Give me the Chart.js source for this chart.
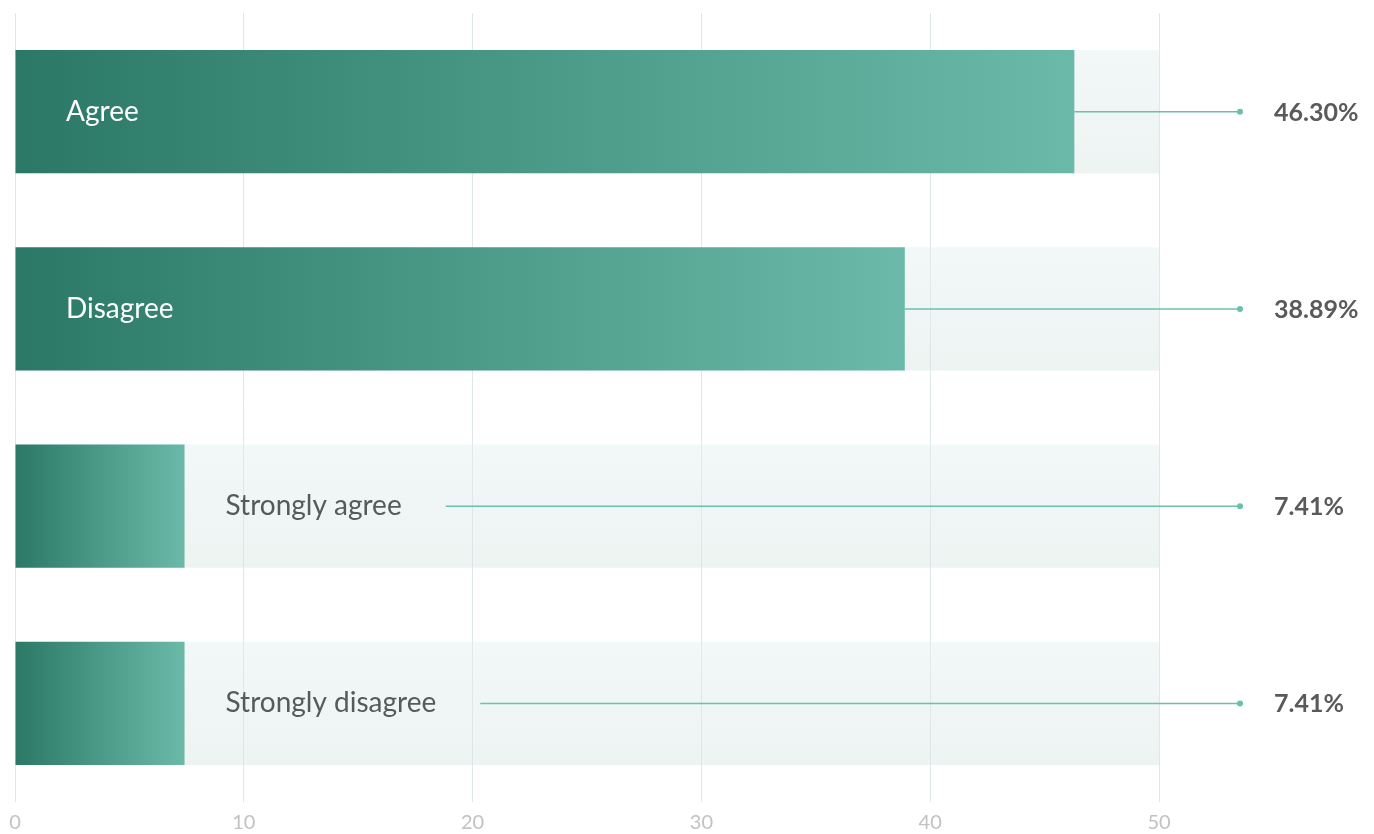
<!DOCTYPE html>
<html>
<head>
<meta charset="utf-8">
<script src="https://cdn.jsdelivr.net/npm/chart.js@4.4.1/dist/chart.umd.min.js"></script>
<style>
    html, body { margin: 0; padding: 0; background: #ffffff; }
    #wrap { width: 1374px; height: 834px; position: relative; }
</style>
</head>
<body>
<div id="wrap"><canvas id="chart"></canvas></div>
<script>
// Data
const categories = ['Agree', 'Disagree', 'Strongly agree', 'Strongly disagree'];
const values = [46.30, 38.89, 7.41, 7.41];
const axisMax = 50;
const trackValues = categories.map(() => axisMax);
const tickLabels = ['0', '10', '20', '30', '40', '50'];

const FONT = 'Lato, "Source Sans Pro", "Noto Sans", sans-serif';

const colors = {
    dark: '#2b7866',
    light: '#6bbaa9',
    line: '#6cbfad',
    grid: '#dfe7e8',
    tick: '#c2c2c2',
    text: '#555a5a',
    value: '#5a5a5a'
};

// gradient from the bar base to the bar end
function barGradient(context) {
    const chart = context.chart;
    if (!chart.chartArea || !chart.scales.x) return colors.light;
    const x = chart.scales.x;
    const v = context.raw || 0;
    const x0 = x.getPixelForValue(0);
    const x1 = x.getPixelForValue(v);
    const g = chart.ctx.createLinearGradient(x0, 0, x1, 0);
    g.addColorStop(0, colors.dark);
    g.addColorStop(1, colors.light);
    return g;
}

function trackGradient(context) {
    const chart = context.chart;
    if (!chart.chartArea || !chart.scales.y) return 'rgba(220,234,232,0.4)';
    const y = chart.scales.y;
    const yc = y.getPixelForValue(context.dataIndex);
    const g = chart.ctx.createLinearGradient(0, yc - 62, 0, yc + 62);
    g.addColorStop(0, 'rgba(226,238,237,0.42)');
    g.addColorStop(1, 'rgba(210,228,224,0.42)');
    return g;
}

// labels, connector lines and values
const labelPlugin = {
    id: 'barLabels',
    afterDatasetsDraw(chart) {
        const { ctx, scales: { x, y } } = chart;
        const lineEnd = x.right + 81;
        const valueX = x.right + 115;
        ctx.save();
        categories.forEach((cat, i) => {
            const yc = y.getPixelForValue(i);
            const x0 = x.getPixelForValue(0);
            const x1 = x.getPixelForValue(values[i]);

            ctx.font = '400 28px ' + FONT;
            ctx.textBaseline = 'middle';
            ctx.textAlign = 'left';
            const w = ctx.measureText(cat).width;
            let lineStart;
            if (x1 - x0 > w + 102) {
                ctx.fillStyle = '#ffffff';
                ctx.fillText(cat, x0 + 51, yc);
                lineStart = x1;
            } else {
                ctx.fillStyle = colors.text;
                ctx.fillText(cat, x1 + 41, yc);
                lineStart = x1 + 41 + w + 44;
            }

            ctx.strokeStyle = colors.line;
            ctx.lineWidth = 1.5;
            ctx.beginPath();
            ctx.moveTo(lineStart, yc);
            ctx.lineTo(lineEnd, yc);
            ctx.stroke();
            ctx.fillStyle = colors.line;
            ctx.beginPath();
            ctx.arc(lineEnd, yc, 3, 0, Math.PI * 2);
            ctx.fill();

            ctx.font = '700 25px ' + FONT;
            ctx.fillStyle = colors.value;
            ctx.fillText(values[i].toFixed(2) + '%', valueX, yc + 1);
        });
        ctx.restore();
    }
};

new Chart(document.getElementById('chart'), {
    type: 'bar',
    data: {
        labels: categories,
        datasets: [
            {
                data: values,
                backgroundColor: barGradient,
                borderWidth: 0,
                order: 0
            },
            {
                data: trackValues,
                backgroundColor: trackGradient,
                borderWidth: 0,
                order: 1
            }
        ]
    },
    options: {
        indexAxis: 'y',
        responsive: true,
        maintainAspectRatio: false,
        animation: false,
        datasets: {
            bar: {
                grouped: false,
                categoryPercentage: 1,
                barPercentage: 0.625
            }
        },
        layout: {
            padding: { left: 15, right: 215, top: 13, bottom: 0 }
        },
        plugins: {
            legend: { display: false },
            tooltip: { enabled: false }
        },
        scales: {
            x: {
                min: 0,
                max: axisMax,
                border: { display: false },
                grid: {
                    color: colors.grid,
                    lineWidth: 1,
                    drawTicks: false
                },
                ticks: {
                    stepSize: 10,
                    padding: 9,
                    color: colors.tick,
                    font: { family: FONT, size: 20 },
                    callback: (v, idx) => tickLabels[idx]
                },
                afterFit: (scale) => { scale.height = 32; }
            },
            y: {
                display: false
            }
        }
    },
    plugins: [labelPlugin]
});
</script>
</body>
</html>
